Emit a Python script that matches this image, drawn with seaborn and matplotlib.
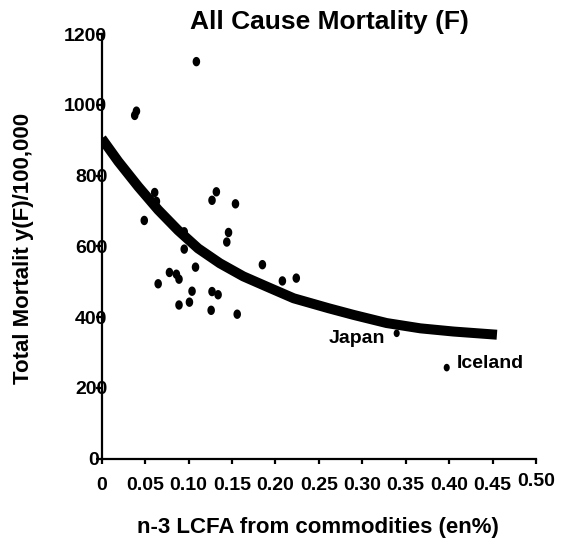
import numpy as np
import pandas as pd
import matplotlib
matplotlib.use("Agg")
import matplotlib.pyplot as plt
from matplotlib.markers import MarkerStyle
from matplotlib.path import Path
from matplotlib.transforms import ScaledTranslation
import seaborn as sns

# Country observations: n-3 LCFA intake (en%) vs female all-cause mortality per 100,000
lcfa = [0.109, 0.038, 0.040, 0.061, 0.063, 0.049, 0.132, 0.127, 0.154,
        0.146, 0.144, 0.095, 0.095, 0.108, 0.185, 0.208, 0.224, 0.065,
        0.078, 0.086, 0.089, 0.104, 0.127, 0.134, 0.089, 0.101, 0.126,
        0.156]
mortality = [1122, 970, 982, 752, 727, 673, 754, 730, 720,
             639, 612, 592, 641, 541, 548, 502, 510, 494,
             526, 521, 507, 473, 472, 463, 434, 442, 419,
             408]

# Named countries
named_lcfa = [0.3396, 0.3972]
named_mortality = [354, 257]
named_labels = ["Japan", "Iceland"]

# Trend line
trend_x = [0.0, 0.019, 0.042, 0.065, 0.088, 0.111, 0.136, 0.163, 0.190,
           0.221, 0.261, 0.290, 0.328, 0.367, 0.405, 0.455]
trend_y = [905, 840, 769, 703, 645, 594, 552, 515, 486,
           453, 425, 406, 383, 368, 359, 350]

x_ticks = [0, 0.05, 0.10, 0.15, 0.20, 0.25, 0.30, 0.35, 0.40, 0.45, 0.50]
x_tick_labels = ["0", "0.05", "0.10", "0.15", "0.20", "0.25", "0.30",
                 "0.35", "0.40", "0.45", "0.50"]
y_ticks = [0, 200, 400, 600, 800, 1000, 1200]
y_tick_labels = ["0", "200", "400", "600", "800", "1000", "1200"]

sns.set_theme(style="white")
plt.rcParams["font.family"] = ["Liberation Sans", "DejaVu Sans"]
plt.rcParams["font.weight"] = "bold"
plt.rcParams["text.color"] = "black"
plt.rcParams["axes.labelcolor"] = "black"
plt.rcParams["xtick.color"] = "black"
plt.rcParams["ytick.color"] = "black"

fig = plt.figure(figsize=(5.72, 5.49), dpi=100)
ax = fig.add_axes([0.1778, 0.1648, 0.7593, 0.7732])

# slightly tall elliptical dot
theta = np.linspace(0, 2 * np.pi, 40)
ellipse = MarkerStyle(Path(np.column_stack([0.8 * np.cos(theta), np.sin(theta)])))

sns.lineplot(x=trend_x, y=trend_y, ax=ax, color="black", linewidth=7.2,
             solid_capstyle="butt", solid_joinstyle="round", sort=False)
sns.scatterplot(x=lcfa, y=mortality, ax=ax, color="black", marker=ellipse,
                s=46, edgecolor="none", linewidth=0)
sns.scatterplot(x=named_lcfa, y=named_mortality, ax=ax, color="black",
                marker=ellipse, s=30, edgecolor="none", linewidth=0)

ax.text(0.326, 327, named_labels[0], ha="right", va="baseline",
        fontsize=14, fontweight="bold", color="black")
ax.text(0.4087, 256, named_labels[1], ha="left", va="baseline",
        fontsize=14, fontweight="bold", color="black")

ax.set_xlim(0, 0.5)
ax.set_ylim(0, 1200)
ax.set_xticks(x_ticks)
ax.set_xticklabels(x_tick_labels)
ax.set_yticks(y_ticks)
ax.set_yticklabels(y_tick_labels)
ax.set_xlabel("")
ax.set_ylabel("")

for side in ["top", "right"]:
    ax.spines[side].set_visible(False)
for side in ["left", "bottom"]:
    ax.spines[side].set_linewidth(1.6)
    ax.spines[side].set_color("black")

ax.tick_params(axis="x", direction="out", length=3.6, width=1.6,
               pad=10, labelsize=14, colors="black", bottom=True)
ax.tick_params(axis="y", direction="out", length=4, width=1.6,
               pad=-8, labelsize=14, colors="black", left=True)

# the last x label sits a little higher, the zero y label clears its tick
last = ax.xaxis.get_major_ticks()[-1].label1
last.set_transform(last.get_transform() + ScaledTranslation(0, 4 / 100, fig.dpi_scale_trans))
zero = ax.yaxis.get_major_ticks()[0].label1
zero.set_transform(zero.get_transform() + ScaledTranslation(-8 / 100, 0, fig.dpi_scale_trans))

fig.text(329.5 / 572, 1 - 22 / 549, "All Cause Mortality (F)", ha="center",
         va="center", fontsize=19, fontweight="bold")
fig.text(24 / 572, 1 - 248 / 549, "Total Mortalit y(F)/100,000", rotation=90,
         ha="center", va="center", fontsize=16, fontweight="bold")
fig.text(318 / 572, 1 - 527 / 549, "n-3 LCFA from commodities (en%)",
         ha="center", va="center", fontsize=16, fontweight="bold")

fig.savefig("out.png", dpi=100, facecolor="white")
